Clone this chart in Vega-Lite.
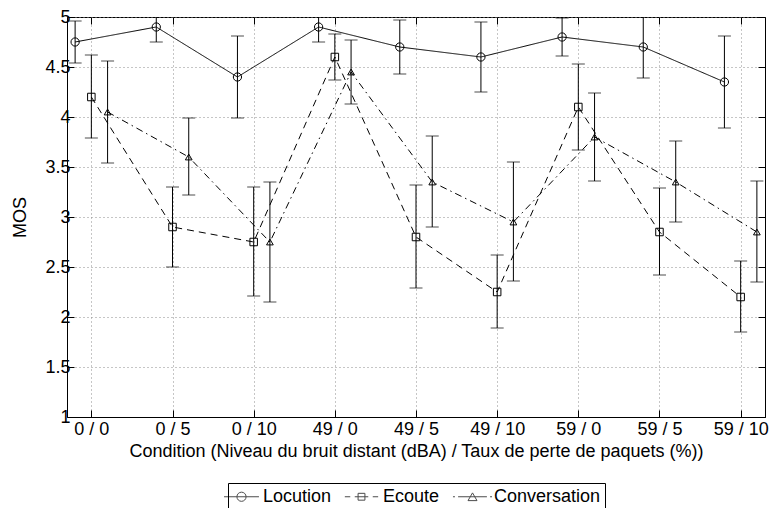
{
  "$schema": "https://vega.github.io/schema/vega-lite/v6.json",
  "width": 698,
  "height": 400,
  "autosize": {"type": "none"},
  "padding": {"left": 67, "top": 17, "right": 6, "bottom": 91},
  "background": "white",
  "config": {
    "view": {"stroke": "black", "strokeWidth": 1},
    "font": "Liberation Sans",
    "axis": {
      "domainColor": "black", "domainWidth": 1, "tickColor": "black", "tickWidth": 1,
      "labelColor": "black", "titleColor": "black",
      "labelFont": "Liberation Sans", "titleFont": "Liberation Sans",
      "labelFontSize": 18, "titleFontSize": 18, "titleFontWeight": "normal",
      "gridColor": "#8c8c8c", "gridDash": [1, 3], "gridWidth": 1, "gridOpacity": 1
    }
  },
  "data": {"values": [
    {"series": "Locution", "cond": "0 / 0", "pos": 0.8, "mos": 4.75, "lo": 4.54, "hi": 4.96},
    {"series": "Locution", "cond": "0 / 5", "pos": 1.8, "mos": 4.9, "lo": 4.75, "hi": 5.05},
    {"series": "Locution", "cond": "0 / 10", "pos": 2.8, "mos": 4.4, "lo": 3.99, "hi": 4.81},
    {"series": "Locution", "cond": "49 / 0", "pos": 3.8, "mos": 4.9, "lo": 4.75, "hi": 5.05},
    {"series": "Locution", "cond": "49 / 5", "pos": 4.8, "mos": 4.7, "lo": 4.43, "hi": 4.97},
    {"series": "Locution", "cond": "49 / 10", "pos": 5.8, "mos": 4.6, "lo": 4.25, "hi": 4.95},
    {"series": "Locution", "cond": "59 / 0", "pos": 6.8, "mos": 4.8, "lo": 4.61, "hi": 4.99},
    {"series": "Locution", "cond": "59 / 5", "pos": 7.8, "mos": 4.7, "lo": 4.39, "hi": 5.01},
    {"series": "Locution", "cond": "59 / 10", "pos": 8.8, "mos": 4.35, "lo": 3.89, "hi": 4.81},
    {"series": "Ecoute", "cond": "0 / 0", "pos": 1, "mos": 4.2, "lo": 3.79, "hi": 4.62},
    {"series": "Ecoute", "cond": "0 / 5", "pos": 2, "mos": 2.9, "lo": 2.5, "hi": 3.3},
    {"series": "Ecoute", "cond": "0 / 10", "pos": 3, "mos": 2.75, "lo": 2.21, "hi": 3.3},
    {"series": "Ecoute", "cond": "49 / 0", "pos": 4, "mos": 4.6, "lo": 4.37, "hi": 4.83},
    {"series": "Ecoute", "cond": "49 / 5", "pos": 5, "mos": 2.8, "lo": 2.29, "hi": 3.32},
    {"series": "Ecoute", "cond": "49 / 10", "pos": 6, "mos": 2.25, "lo": 1.89, "hi": 2.62},
    {"series": "Ecoute", "cond": "59 / 0", "pos": 7, "mos": 4.1, "lo": 3.67, "hi": 4.53},
    {"series": "Ecoute", "cond": "59 / 5", "pos": 8, "mos": 2.85, "lo": 2.42, "hi": 3.29},
    {"series": "Ecoute", "cond": "59 / 10", "pos": 9, "mos": 2.2, "lo": 1.85, "hi": 2.56},
    {"series": "Conversation", "cond": "0 / 0", "pos": 1.2, "mos": 4.05, "lo": 3.54, "hi": 4.56},
    {"series": "Conversation", "cond": "0 / 5", "pos": 2.2, "mos": 3.6, "lo": 3.22, "hi": 3.99},
    {"series": "Conversation", "cond": "0 / 10", "pos": 3.2, "mos": 2.75, "lo": 2.15, "hi": 3.35},
    {"series": "Conversation", "cond": "49 / 0", "pos": 4.2, "mos": 4.45, "lo": 4.13, "hi": 4.77},
    {"series": "Conversation", "cond": "49 / 5", "pos": 5.2, "mos": 3.35, "lo": 2.9, "hi": 3.81},
    {"series": "Conversation", "cond": "49 / 10", "pos": 6.2, "mos": 2.95, "lo": 2.36, "hi": 3.55},
    {"series": "Conversation", "cond": "59 / 0", "pos": 7.2, "mos": 3.8, "lo": 3.36, "hi": 4.24},
    {"series": "Conversation", "cond": "59 / 5", "pos": 8.2, "mos": 3.35, "lo": 2.95, "hi": 3.76},
    {"series": "Conversation", "cond": "59 / 10", "pos": 9.2, "mos": 2.85, "lo": 2.35, "hi": 3.36}
  ]},
  "layer": [
    {
      "mark": {"type": "rule", "color": "black", "strokeWidth": 1, "clip": true},
      "encoding": {
        "x": {"field": "pos", "type": "quantitative",
          "scale": {"domain": [0.7, 9.3], "nice": false, "zero": false},
          "axis": {"orient": "bottom", "values": [1, 2, 3, 4, 5, 6, 7, 8, 9],
            "labelExpr": "['0 / 0','0 / 5','0 / 10','49 / 0','49 / 5','49 / 10','59 / 0','59 / 5','59 / 10'][datum.value - 1]",
            "grid": true, "tickSize": -7, "labelPadding": 10, "labelFlush": false, "labelOverlap": false,
            "title": "Condition (Niveau du bruit distant (dBA) / Taux de perte de paquets (%))", "titlePadding": 4}},
        "y": {"field": "lo", "type": "quantitative",
          "scale": {"domain": [1, 5], "nice": false, "zero": false},
          "axis": {"orient": "left", "values": [1, 1.5, 2, 2.5, 3, 3.5, 4, 4.5, 5], "format": "~g",
            "grid": true, "tickSize": -7, "labelPadding": 4, "labelFlush": false, "labelOverlap": false,
            "title": "MOS", "titlePadding": 15}},
        "y2": {"field": "hi"}
      }
    },
    {
      "mark": {"type": "tick", "orient": "horizontal", "color": "black", "size": 13, "thickness": 1, "clip": true},
      "encoding": {
        "x": {"field": "pos", "type": "quantitative", "axis": null},
        "y": {"field": "lo", "type": "quantitative", "axis": null}
      }
    },
    {
      "mark": {"type": "tick", "orient": "horizontal", "color": "black", "size": 13, "thickness": 1, "clip": true},
      "encoding": {
        "x": {"field": "pos", "type": "quantitative", "axis": null},
        "y": {"field": "hi", "type": "quantitative", "axis": null}
      }
    },
    {
      "mark": {"type": "line", "color": "black", "strokeWidth": 1},
      "encoding": {
        "x": {"field": "pos", "type": "quantitative",
          "axis": {"orient": "top", "values": [1, 2, 3, 4, 5, 6, 7, 8, 9], "labels": false, "grid": false, "domain": false, "tickSize": -7, "title": null}},
        "y": {"field": "mos", "type": "quantitative",
          "axis": {"orient": "right", "values": [1, 1.5, 2, 2.5, 3, 3.5, 4, 4.5, 5], "labels": false, "grid": false, "domain": false, "tickSize": -7, "title": null}},
        "strokeDash": {"field": "series", "type": "nominal",
          "scale": {"domain": ["Locution", "Ecoute", "Conversation"], "range": [[1, 0], [7, 5], [7, 4, 1.5, 4]]},
          "legend": null}
      }
    },
    {
      "mark": {"type": "point", "filled": false, "color": "black", "strokeWidth": 1, "opacity": 1},
      "encoding": {
        "x": {"field": "pos", "type": "quantitative", "axis": null},
        "y": {"field": "mos", "type": "quantitative", "axis": null},
        "shape": {"field": "series", "type": "nominal",
          "scale": {"domain": ["Locution", "Ecoute", "Conversation"], "range": ["circle", "square", "triangle-up"]},
          "legend": null},
        "size": {"field": "series", "type": "nominal",
          "scale": {"domain": ["Locution", "Ecoute", "Conversation"], "range": [68, 45, 81]},
          "legend": null}
      }
    },
    {
      "mark": {"type": "point", "filled": false, "color": "black", "strokeWidth": 1, "size": 0},
      "encoding": {
        "x": {"field": "pos", "type": "quantitative", "axis": null},
        "y": {"field": "mos", "type": "quantitative", "axis": null},
        "shape": {"field": "series", "type": "nominal",
          "scale": {"domain": ["Locution", "Ecoute", "Conversation"],
            "range": [
              "M-2.5,0M-1.94,0H1.94M0.51,0A0.51,0.51,0,1,1,-0.51,0A0.51,0.51,0,1,1,0.51,0",
              "M-1.85,0H-1.25M-0.75,0H0.75M1.25,0H1.85M-0.38,-0.38H0.38V0.38H-0.38Z",
              "M-2.17,0H-1.95M-1.6,0H1.6M1.95,0H2.17M0,-0.43L0.5,0.43H-0.5Z"
            ]},
          "legend": {"orient": "none", "legendX": 161, "legendY": 466, "direction": "horizontal", "columns": 3,
            "title": null, "symbolSize": 324, "symbolStrokeWidth": 1, "symbolStrokeColor": "black",
            "symbolFillColor": "transparent", "labelFontSize": 18, "labelFont": "Liberation Sans",
            "labelColor": "black", "labelOffset": 12, "columnPadding": 10, "padding": 4,
            "strokeColor": "black", "fillColor": "white"}}
      }
    }
  ],
  "resolve": {"scale": {"shape": "independent"}, "axis": {"x": "independent", "y": "independent"}}
}
